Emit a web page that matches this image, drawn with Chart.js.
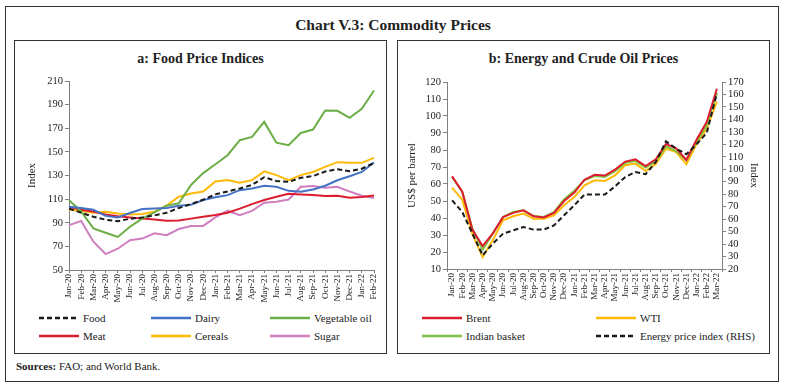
<!DOCTYPE html>
<html>
<head>
<meta charset="utf-8">
<script src="https://cdn.jsdelivr.net/npm/chart.js@4.4.0/dist/chart.umd.min.js"></script>
<style>
  body { margin: 0; width: 786px; height: 387px; background: #fff; position: relative; overflow: hidden;
         font-family: "Liberation Serif", "DejaVu Serif", serif; color: #222; }
  .box { position: absolute; box-sizing: border-box; border: 1px solid #333; }
  #frame { left: 5px; top: 6px; width: 774px; height: 376px; }
  #panelA { left: 14px; top: 40px; width: 373px; height: 314px; }
  #panelB { left: 397px; top: 40px; width: 373px; height: 314px; }
  .title { position: absolute; left: 0; right: 0; text-align: center; font-weight: bold; }
  #mainTitle { top: 15px; font-size: 15.5px; line-height: 20px; }
  .panelTitle { top: 9px; font-size: 14px; line-height: 18px; }
  .chartWrap { position: absolute; top: 70px; width: 371px; height: 236px; }
  #wrapA { left: 15px; }
  #wrapB { left: 398px; }
  .legItem { position: absolute; height: 14px; font-size: 11px; line-height: 14px; white-space: nowrap; }
  .legItem svg { position: absolute; left: 0; top: 5px; }
  .legItem span { position: absolute; left: 44px; top: 0; }
  #sources { position: absolute; left: 16px; top: 359px; font-size: 11px; line-height: 14px; }
</style>
</head>
<body>
<div class="box" id="frame"></div>
<div id="mainTitle" class="title">Chart V.3: Commodity Prices</div>
<div class="box" id="panelA"><div class="title panelTitle">a: Food Price Indices</div></div>
<div class="box" id="panelB"><div class="title panelTitle">b: Energy and Crude Oil Prices</div></div>
<div class="chartWrap" id="wrapA"><canvas id="chartA" width="371" height="236"></canvas></div>
<div class="chartWrap" id="wrapB"><canvas id="chartB" width="371" height="236"></canvas></div>
<div id="legends"></div>
<div id="sources"><b>Sources:</b> FAO; and World Bank.</div>

<script>
// ---- data: panel a (FAO indices) ----
const foodMonths = ["Jan-20","Feb-20","Mar-20","Apr-20","May-20","Jun-20","Jul-20","Aug-20","Sep-20","Oct-20",
  "Nov-20","Dec-20","Jan-21","Feb-21","Mar-21","Apr-21","May-21","Jun-21","Jul-21","Aug-21","Sep-21","Oct-21",
  "Nov-21","Dec-21","Jan-22","Feb-22"];
const food = [102, 98.5, 95, 92.6, 91.3, 93.4, 94.5, 96.2, 98.5, 102.5, 105.8, 109.5, 114, 116.5, 119, 122,
  128.5, 125.4, 124.6, 128.1, 129.5, 133.4, 135.3, 133.7, 135.7, 140.7];
const dairy = [103.5, 102.5, 101, 95.8, 94.5, 98.3, 101.6, 102, 102.5, 104.4, 105.3, 109.2, 111.5, 113.4, 117.6,
  119, 121.3, 120.4, 117, 116.2, 118.2, 121.3, 126, 129.4, 133, 141];
const vegOil = [109, 99.5, 85.2, 81.5, 78, 86.6, 93.5, 98.8, 104.5, 106.5, 122, 132, 139.5, 147.2, 159.9, 162.7,
  175.4, 157.8, 155.6, 166, 168.9, 185, 184.8, 178.8, 186.5, 202];
const meat = [103.5, 101, 99.5, 97, 95.5, 94.5, 93.5, 92.7, 91.7, 91.9, 93.5, 95, 96.5, 98.5, 102, 105.8, 109.2,
  112, 114.5, 114, 113.4, 112.6, 112.8, 111.2, 111.8, 113];
const cereals = [101.3, 100, 98.5, 99.3, 97.9, 97, 97.5, 99.3, 104.5, 112, 114.8, 116.5, 125, 126.1, 123.8, 126.1,
  133.5, 130.3, 126.1, 130.3, 133, 137.3, 141.3, 140.7, 140.7, 144.9];
const sugar = [88, 91.5, 74, 63.5, 68, 75.2, 76.6, 81, 79.5, 84.7, 87.3, 87.3, 94.5, 100.2, 96.5, 100.1, 106.9,
  107.7, 109.7, 120.4, 121.2, 119.6, 120.4, 116.4, 112.8, 111];

// ---- data: panel b (energy) ----
const energyMonths = ["Jan-20","Feb-20","Mar-20","Apr-20","May-20","Jun-20","Jul-20","Aug-20","Sep-20","Oct-20",
  "Nov-20","Dec-20","Jan-21","Feb-21","Mar-21","Apr-21","May-21","Jun-21","Jul-21","Aug-21","Sep-21","Oct-21",
  "Nov-21","Dec-21","Jan-22","Feb-22","Mar-22"];
const brent = [64.5, 55.5, 33, 23.5, 31, 40.5, 43, 44.5, 41, 40.3, 43, 50, 55, 62.5, 65.5, 65, 68.5, 73.2, 74.5,
  70.5, 74.5, 83.5, 81, 74.2, 86, 96.5, 116];
const wti = [57.9, 50.8, 30.5, 17, 27, 38.6, 41, 42.6, 39.6, 39.6, 41.6, 47.5, 52.4, 59.2, 62.2, 61.8, 65.1, 71,
  72, 67.6, 71.8, 80.8, 78.8, 71.6, 83.5, 92.6, 108.4];
const indianBasket = [64.1, 55.3, 33.7, 21.4, 30.8, 40.6, 43.5, 44.5, 41.2, 40.6, 43.5, 51, 56, 62.3, 64.7, 64.1,
  67.6, 72.4, 73.6, 69.6, 73.4, 82.2, 79.4, 73.9, 84.7, 94.5, 113.2];
const energyIndex = [75, 65.7, 48.4, 31, 40.4, 48.4, 51, 53.7, 51.6, 51.6, 55, 63.1, 71.1, 79.7, 79.7, 79.7,
  86.3, 93.8, 97.8, 96, 105.8, 122.4, 116.6, 112, 120, 129.1, 161];

// ---- styling ----
const INK = "#222";
const AXIS = "#808080";
const FONT = "'Liberation Serif', 'DejaVu Serif', serif";
const DASH = [5, 3];

const foodSeries = [
  { label: "Food", data: food, color: "#1a1a1a", dash: DASH },
  { label: "Dairy", data: dairy, color: "#4472C4" },
  { label: "Vegetable oil", data: vegOil, color: "#6AAE45" },
  { label: "Meat", data: meat, color: "#DC1C2E" },
  { label: "Cereals", data: cereals, color: "#FFBA08" },
  { label: "Sugar", data: sugar, color: "#CF7FBF" },
];
const energySeries = [
  { label: "Brent", data: brent, color: "#DC1C2E" },
  { label: "WTI", data: wti, color: "#FFBA08" },
  { label: "Indian basket", data: indianBasket, color: "#7DC242" },
  { label: "Energy price index (RHS)", data: energyIndex, color: "#1a1a1a", dash: DASH, axis: "y1" },
];

function toDataset(s) {
  return {
    label: s.label, data: s.data, borderColor: s.color, backgroundColor: s.color,
    borderWidth: 2, borderDash: s.dash || [], pointRadius: 0, tension: 0, fill: false,
    yAxisID: s.axis || "y",
  };
}

function xAxis(height, offset) {
  return {
    offset: offset,
    grid: { display: true, drawOnChartArea: false, drawTicks: true, tickLength: 3, color: AXIS, offset: offset },
    border: { display: true, color: AXIS },
    ticks: { autoSkip: false, maxRotation: 90, minRotation: 90, padding: 1, color: INK, font: { family: FONT, size: 9 } },
    afterFit: s => { s.height = height; },
  };
}

function yAxis(opts) {
  return {
    position: opts.position || "left",
    min: opts.min, max: opts.max,
    grid: { display: true, drawOnChartArea: false, drawTicks: true, tickLength: 4, color: AXIS },
    border: { display: true, color: AXIS },
    ticks: { stepSize: opts.step, autoSkip: false, padding: 2, color: INK, font: { family: FONT, size: 10.5 } },
    title: { display: true, text: opts.title, color: INK, font: { family: FONT, size: 11 }, padding: { top: opts.titlePad, bottom: 0 } },
    afterFit: s => { s.width = opts.width; },
  };
}

Chart.defaults.animation = false;

// draw order: first dataset ends up on top
new Chart(document.getElementById("chartA"), {
  type: "line",
  data: { labels: foodMonths, datasets: foodSeries.map(toDataset) },
  options: {
    responsive: false,
    layout: { padding: { top: 11, right: 12, bottom: 0, left: 0 } },
    plugins: { legend: { display: false }, tooltip: { enabled: false } },
    scales: {
      x: xAxis(36, false),
      y: yAxis({ min: 50, max: 210, step: 20, title: "Index", titlePad: 11, width: 54 }),
    },
  },
});

new Chart(document.getElementById("chartB"), {
  type: "line",
  data: {
    labels: energyMonths,
    datasets: [energySeries[3], energySeries[0], energySeries[2], energySeries[1]].map(toDataset),
  },
  options: {
    responsive: false,
    layout: { padding: { top: 12, right: 0, bottom: 0, left: 0 } },
    plugins: { legend: { display: false }, tooltip: { enabled: false } },
    scales: {
      x: xAxis(37, true),
      y: yAxis({ min: 10, max: 120, step: 10, title: "US$ per barrel", titlePad: 8, width: 49 }),
      y1: yAxis({ position: "right", min: 20, max: 170, step: 10, title: "Index", titlePad: 9, width: 47 }),
    },
  },
});

// ---- HTML legends ----
function legendItem(s, left, top) {
  const d = document.createElement("div");
  d.className = "legItem";
  d.style.left = left + "px";
  d.style.top = top + "px";
  const dash = s.dash ? ` stroke-dasharray="${s.dash.join(" ")}"` : "";
  d.innerHTML = `<svg width="40" height="4"><line x1="0" y1="2" x2="40" y2="2" stroke="${s.color}" stroke-width="2.5"${dash}/></svg><span>${s.label}</span>`;
  document.getElementById("legends").appendChild(d);
}
const rowTops = [311, 329];
const colA = [39, 151, 270];
foodSeries.forEach((s, i) => legendItem(s, colA[i % 3], rowTops[Math.floor(i / 3)]));
const colB = [422, 596];
energySeries.forEach((s, i) => legendItem(s, colB[i % 2], rowTops[Math.floor(i / 2)]));
</script>
</body>
</html>
